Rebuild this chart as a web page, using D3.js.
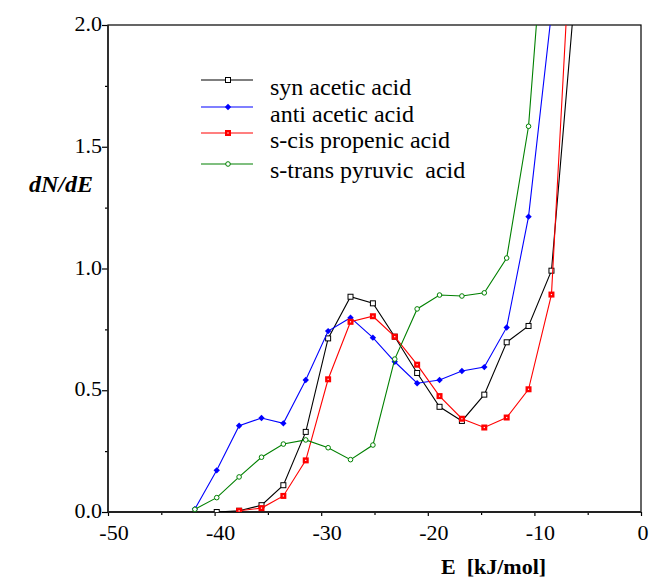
<!DOCTYPE html>
<html>
<head>
<meta charset="utf-8">
<script src="https://cdn.jsdelivr.net/npm/d3@7"></script>
<style>
  body { margin: 0; background: #fff; }
  svg { display: block; font-family: "Liberation Serif", "Times New Roman", serif; }
</style>
</head>
<body>
<svg id="chart"></svg>
<script>
// energy bins (kJ/mol), shared by all series
const energies = [-41.85, -39.8, -37.7, -35.6, -33.55, -31.45, -29.35, -27.25, -25.15,
  -23.1, -21.0, -18.9, -16.8, -14.7, -12.6, -10.55, -8.4, -6.3];

const synAcetic = [null, 0.0, 0.005, 0.028, 0.11, 0.329, 0.713, 0.884, 0.857,
  0.72, 0.571, 0.432, 0.374, 0.482, 0.697, 0.764, 0.991, 2.08];
const antiAcetic = [0.012, 0.171, 0.354, 0.386, 0.364, 0.542, 0.743, 0.798, 0.716,
  0.617, 0.529, 0.542, 0.579, 0.595, 0.758, 1.213, 2.05, null];
const sCisPropenic = [null, null, 0.005, 0.016, 0.066, 0.212, 0.545, 0.781, 0.804,
  0.72, 0.605, 0.476, 0.383, 0.347, 0.388, 0.504, 0.893, 2.6];
const sTransPyruvic = [0.011, 0.059, 0.144, 0.225, 0.279, 0.296, 0.264, 0.215, 0.275,
  0.628, 0.834, 0.891, 0.887, 0.90, 1.043, 1.584, 2.8, null];

const seriesNames = ['syn acetic acid', 'anti acetic acid', 's-cis propenic acid', 's-trans pyruvic  acid'];
const xTicks = [-50, -40, -30, -20, -10, 0];
const yTicks = [0, 0.5, 1.0, 1.5, 2.0];

const width = 649, height = 579;
const plotLeft = 108, plotRight = 641, plotTop = 25, plotBottom = 512;

const svg = d3.select('#chart').attr('width', width).attr('height', height);

const x = d3.scaleLinear().domain([-50, 0]).range([plotLeft, plotRight]);
const y = d3.scaleLinear().domain([0, 2]).range([plotBottom, plotTop]);

const series = [
  { name: seriesNames[0], values: synAcetic, color: '#000000', marker: 'openSquare' },
  { name: seriesNames[1], values: antiAcetic, color: '#0000ff', marker: 'diamond' },
  { name: seriesNames[2], values: sCisPropenic, color: '#ff0000', marker: 'redSquare' },
  { name: seriesNames[3], values: sTransPyruvic, color: '#008000', marker: 'circle' }
];

svg.append('defs').append('clipPath').attr('id', 'plotClip')
  .append('rect')
  .attr('x', plotLeft).attr('y', plotTop)
  .attr('width', plotRight - plotLeft).attr('height', plotBottom - plotTop);

// axes: minor + major ticks
svg.append('g')
  .attr('transform', `translate(0,${plotBottom})`)
  .call(d3.axisBottom(x).tickValues(d3.range(-45, 0, 10)).tickSize(3).tickFormat(''))
  .call(g => g.select('.domain').remove());
svg.append('g')
  .attr('transform', `translate(0,${plotBottom})`)
  .call(d3.axisBottom(x).tickValues(xTicks).tickSize(4).tickFormat(''))
  .call(g => g.select('.domain').remove());

svg.append('g')
  .attr('transform', `translate(${plotLeft},0)`)
  .call(d3.axisLeft(y).tickValues([0.25, 0.75, 1.25, 1.75]).tickSize(3).tickFormat(''))
  .call(g => g.select('.domain').remove());
svg.append('g')
  .attr('transform', `translate(${plotLeft},0)`)
  .call(d3.axisLeft(y).tickValues(yTicks).tickSize(6).tickFormat(''))
  .call(g => g.select('.domain').remove());

svg.selectAll('.tick line').attr('stroke', '#000').attr('stroke-width', 1.2);

// frame
svg.append('rect')
  .attr('x', plotLeft).attr('y', plotTop)
  .attr('width', plotRight - plotLeft).attr('height', plotBottom - plotTop)
  .attr('fill', 'none').attr('stroke', '#000').attr('stroke-width', 1.2);
svg.append('line')
  .attr('x1', plotLeft).attr('x2', plotRight).attr('y1', plotBottom).attr('y2', plotBottom)
  .attr('stroke', '#222').attr('stroke-width', 2);
svg.append('line')
  .attr('x1', plotLeft).attr('x2', plotLeft).attr('y1', plotTop).attr('y2', plotBottom)
  .attr('stroke', '#222').attr('stroke-width', 1.6);

// tick labels
svg.append('g').selectAll('text')
  .data(xTicks)
  .join('text')
  .attr('x', d => x(d) + (d < 0 ? 6 : 2))
  .attr('y', plotBottom + 28)
  .attr('text-anchor', 'middle')
  .style('font-size', '22px')
  .text(d => d);

svg.append('g').selectAll('text')
  .data(yTicks)
  .join('text')
  .attr('x', plotLeft - 6)
  .attr('y', d => y(d) + 6)
  .attr('text-anchor', 'end')
  .style('font-size', '22px')
  .text(d => d.toFixed(1));

// axis titles
svg.append('text')
  .attr('x', 441).attr('y', 574)
  .style('font-size', '22px').style('font-weight', 'bold')
  .style('white-space', 'pre')
  .text('E  [kJ/mol]');

svg.append('text')
  .attr('x', 29).attr('y', 192)
  .style('font-size', '24px').style('font-weight', 'bold').style('font-style', 'italic')
  .text('dN/dE');

function drawMarker(g, type, color) {
  if (type === 'openSquare') {
    g.append('rect').attr('x', -2.5).attr('y', -2.5).attr('width', 5).attr('height', 5)
      .attr('fill', '#fff').attr('stroke', color).attr('stroke-width', 1);
  } else if (type === 'redSquare') {
    g.append('rect').attr('x', -3).attr('y', -3).attr('width', 6).attr('height', 6)
      .attr('fill', color);
    g.append('rect').attr('x', -0.6).attr('y', -0.6).attr('width', 1.2).attr('height', 1.2)
      .attr('fill', '#fff');
  } else if (type === 'diamond') {
    g.append('path').attr('d', 'M0,-3.2L3.2,0L0,3.2L-3.2,0Z').attr('fill', color);
  } else {
    g.append('circle').attr('r', 2.3).attr('fill', '#fff')
      .attr('stroke', color).attr('stroke-width', 1);
  }
}

const plot = svg.append('g').attr('clip-path', 'url(#plotClip)');

const line = d3.line()
  .x(d => x(d.e))
  .y(d => y(d.v));

series.forEach(s => {
  const pts = energies.map((e, i) => ({ e: e, v: s.values[i] })).filter(d => d.v !== null);
  plot.append('path')
    .datum(pts)
    .attr('d', line)
    .attr('fill', 'none')
    .attr('stroke', s.color)
    .attr('stroke-width', 1.1);
  plot.append('g').selectAll('g')
    .data(pts)
    .join('g')
    .attr('transform', d => `translate(${x(d.e)},${y(d.v)})`)
    .each(function () { drawMarker(d3.select(this), s.marker, s.color); });
});

// legend
const legendLineY = [80, 107, 133, 164];
const legendTextY = [95, 122, 148, 178];
const legend = svg.append('g');
series.forEach((s, i) => {
  legend.append('line')
    .attr('x1', 201).attr('x2', 253)
    .attr('y1', legendLineY[i]).attr('y2', legendLineY[i])
    .attr('stroke', s.color).attr('stroke-width', 1.1);
  drawMarker(legend.append('g').attr('transform', `translate(228,${legendLineY[i]})`), s.marker, s.color);
  legend.append('text')
    .attr('x', 270).attr('y', legendTextY[i])
    .style('font-size', '24px')
    .style('white-space', 'pre')
    .text(s.name);
});
</script>
</body>
</html>
